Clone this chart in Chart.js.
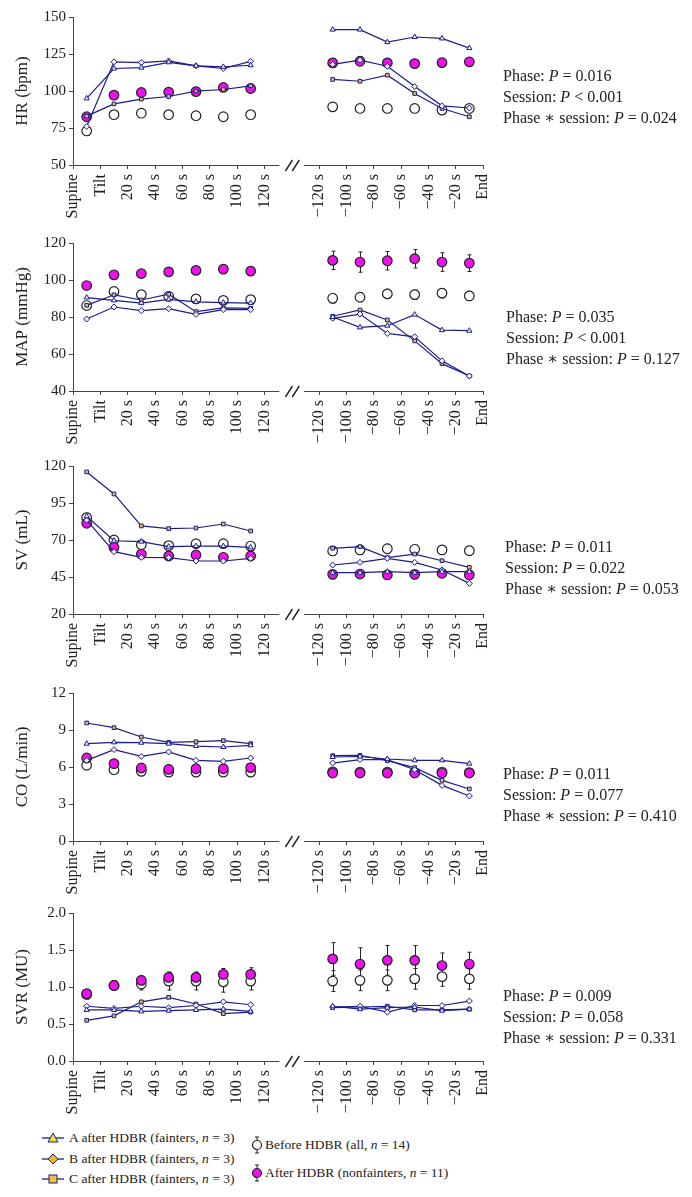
<!DOCTYPE html>
<html>
<head>
<meta charset="utf-8">
<script src="https://cdn.jsdelivr.net/npm/chart.js@4.4.0/dist/chart.umd.min.js"></script>
<style>
  body { margin: 0; background: #fff; width: 692px; height: 1197px; position: relative; overflow: hidden;
         font-family: 'Liberation Serif', 'DejaVu Serif', serif; color: #222; }
  .panel { position: absolute; left: 0; width: 692px; height: 228px; }
  .stats { position: absolute; font-size: 16px; line-height: 21px; white-space: nowrap; }
  .leg { position: absolute; font-size: 13.5px; white-space: nowrap; display: flex; align-items: center; height: 20px; }
  .leg svg { margin-right: 5px; }
  .leg.r svg { margin-right: 2px; }
</style>
</head>
<body>

<div class="panel" style="top:2px"><canvas id="hr"></canvas></div>
<div class="panel" style="top:228px"><canvas id="map"></canvas></div>
<div class="panel" style="top:451px"><canvas id="sv"></canvas></div>
<div class="panel" style="top:678px"><canvas id="co"></canvas></div>
<div class="panel" style="top:898px"><canvas id="svr"></canvas></div>

<div class="stats" style="left:503px;top:65px">Phase: <i>P</i> = 0.016<br>Session: <i>P</i> &lt; 0.001<br>Phase ∗ session: <i>P</i> = 0.024</div>
<div class="stats" style="left:506px;top:306px">Phase: <i>P</i> = 0.035<br>Session: <i>P</i> &lt; 0.001<br>Phase ∗ session: <i>P</i> = 0.127</div>
<div class="stats" style="left:505px;top:536px">Phase: <i>P</i> = 0.011<br>Session: <i>P</i> = 0.022<br>Phase ∗ session: <i>P</i> = 0.053</div>
<div class="stats" style="left:503px;top:763px">Phase: <i>P</i> = 0.011<br>Session: <i>P</i> = 0.077<br>Phase ∗ session: <i>P</i> = 0.410</div>
<div class="stats" style="left:503px;top:985px">Phase: <i>P</i> = 0.009<br>Session: <i>P</i> = 0.058<br>Phase ∗ session: <i>P</i> = 0.331</div>

<div class="leg" style="left:42px;top:1128px"><svg width="22" height="12"><line x1="0" y1="6" x2="22" y2="6" stroke="#1c1c8a" stroke-width="1.3"/><polygon points="11,1 16,10 6,10" fill="#f0e040" stroke="#1c1c8a"/></svg><span>A after HDBR (fainters, <i>n</i> = 3)</span></div>
<div class="leg" style="left:42px;top:1149px"><svg width="22" height="12"><line x1="0" y1="6" x2="22" y2="6" stroke="#1c1c8a" stroke-width="1.3"/><polygon points="11,1 16,6 11,11 6,6" fill="#f0b820" stroke="#1c1c8a"/></svg><span>B after HDBR (fainters, <i>n</i> = 3)</span></div>
<div class="leg" style="left:42px;top:1169px"><svg width="22" height="12"><line x1="0" y1="6" x2="22" y2="6" stroke="#1c1c8a" stroke-width="1.3"/><rect x="7" y="2" width="8" height="8" fill="#f0c040" stroke="#1c1c8a"/></svg><span>C after HDBR (fainters, <i>n</i> = 3)</span></div>
<div class="leg r" style="left:251px;top:1135px"><svg width="12" height="18"><line x1="6" y1="1" x2="6" y2="17" stroke="#222"/><line x1="4" y1="1" x2="8" y2="1" stroke="#222"/><line x1="4" y1="17" x2="8" y2="17" stroke="#222"/><circle cx="6" cy="9" r="4.5" fill="#fff" stroke="#222" stroke-width="1.2"/></svg><span>Before HDBR (all, <i>n</i> = 14)</span></div>
<div class="leg r" style="left:251px;top:1163px"><svg width="12" height="18"><line x1="6" y1="1" x2="6" y2="17" stroke="#222"/><line x1="4" y1="1" x2="8" y2="1" stroke="#222"/><line x1="4" y1="17" x2="8" y2="17" stroke="#222"/><circle cx="6" cy="9" r="4.5" fill="#ee11ee" stroke="#222" stroke-width="1.2"/></svg><span>After HDBR (nonfainters, <i>n</i> = 11)</span></div>

<script>
// x axis: tilt phase (left) and last 2 min before end (right)
const xTickLabels = ['Supine', 'Tilt', '20 s', '40 s', '60 s', '80 s', '100 s', '120 s',
                     '\u2212120 s', '\u2212100 s', '\u221280 s', '\u221260 s', '\u221240 s', '\u221220 s', 'End'];
const xTickPos = [0, 1, 2, 3, 4, 5, 6, 7, 9, 10, 11, 12, 13, 14, 15];

// 13 values each: 7 in the first segment, 6 in the second
const hrA = [95, 115.2, 115.8, 119.4, 117, 116.3, 117.4, 141.5, 141.5, 133, 136.5, 135.5, 129];
const hrB = [76, 119.7, 119.2, 120.3, 117, 115.2, 120, 118, 120.8, 116.7, 103, 90, 88.5];
const hrC = [83, 91.3, 94.5, 96.3, 99.9, 101, 103.5, 107.8, 106.6, 110.7, 98.3, 88.2, 82.6];
const hrBefore = [73, 84, 85, 84, 83.3, 82.6, 84, 89.3, 88.2, 88.2, 88.2, 87.1, 88.2];
const hrAfter = [82.6, 97.2, 99, 99.2, 99.6, 102.4, 101.7, 119, 120.1, 119, 118.5, 119.2, 119.7];
const hrBeforeErr = [3, 2, 2, 2, 2, 2, 2, 2, 2, 2, 2, 2, 2];
const hrAfterErr = [2, 2, 2, 2, 2, 2, 2, 3, 3, 3, 2, 2, 2];

const mapA = [90.5, 89, 87.5, 89.5, 88.2, 87.8, 87.5, 80, 74.4, 75.3, 81.3, 72.9, 72.6];
const mapB = [78.9, 85.4, 83.4, 84.5, 81.4, 84, 84, 79.3, 81.6, 71.1, 69.3, 56.3, 48.1];
const mapC = [86.3, 92, 89.2, 92.3, 82.9, 84.9, 84.7, 80.4, 83.8, 78.4, 67.1, 54.8, 48.1];
const mapBefore = [86.2, 93.8, 92.1, 91.2, 89.8, 89, 89.4, 90.1, 90.7, 92.5, 92.1, 92.9, 91.4];
const mapAfter = [97, 102.8, 103.5, 104.4, 105.2, 105.9, 104.8, 110.6, 109.7, 110.4, 111.5, 109.7, 109.1];
const mapBeforeErr = [2, 2, 2, 2, 2, 2, 2, 2.5, 2.5, 2.5, 2.5, 2.5, 2.5];
const mapAfterErr = [1.5, 2, 2, 2, 2, 2, 2, 5, 5.5, 5, 5, 5, 4.5];

const svA = [86, 69.5, 68.9, 65.5, 65.9, 65.9, 65, 47.9, 47.9, 48.6, 47.9, 48.6, 48.6];
const svB = [83.5, 62.1, 58.3, 58.1, 55.8, 55.8, 57.6, 53.1, 54.9, 57.6, 54.9, 49.7, 40.7];
const svC = [116, 101.1, 79.5, 77.7, 78.1, 80.8, 76.1, 64.4, 65.5, 58.1, 60.5, 56, 51.5];
const svBefore = [85.1, 70, 66.8, 66.2, 67.5, 67.5, 65.9, 62.6, 63.3, 64.1, 63.7, 63.3, 62.8];
const svAfter = [81.3, 65, 60.5, 59.2, 59.9, 58.3, 59.2, 46.8, 47, 46.4, 46.8, 47.5, 46.4];
const svBeforeErr = [3, 2.5, 2.5, 2.5, 2.5, 2.5, 2.5, 3, 3, 3, 3, 3, 3];
const svAfterErr = [2.5, 2.5, 2.5, 2.5, 2.5, 2.5, 2.5, 2.5, 2.5, 2.5, 2.5, 2.5, 2.5];

const coA = [7.89, 8.0, 7.97, 7.89, 7.7, 7.62, 7.76, 6.81, 6.85, 6.65, 6.54, 6.54, 6.27];
const coB = [6.54, 7.41, 6.86, 7.22, 6.54, 6.46, 6.73, 6.32, 6.6, 6.59, 5.78, 4.51, 3.65];
const coC = [9.57, 9.19, 8.43, 8.0, 8.05, 8.14, 7.89, 6.92, 6.95, 6.51, 5.95, 4.92, 4.22];
const coBefore = [6.14, 5.78, 5.65, 5.59, 5.59, 5.59, 5.59, 5.6, 5.59, 5.59, 5.55, 5.59, 5.55];
const coAfter = [6.73, 6.27, 5.92, 5.81, 5.86, 5.86, 5.95, 5.51, 5.51, 5.51, 5.51, 5.51, 5.51];
const coBeforeErr = [0.3, 0.3, 0.3, 0.3, 0.3, 0.3, 0.3, 0.3, 0.3, 0.3, 0.3, 0.3, 0.3];
const coAfterErr = [0.3, 0.3, 0.3, 0.3, 0.3, 0.3, 0.3, 0.3, 0.3, 0.3, 0.3, 0.3, 0.3];

const svrA = [0.69, 0.69, 0.67, 0.68, 0.69, 0.70, 0.67, 0.74, 0.70, 0.72, 0.73, 0.68, 0.70];
const svrB = [0.74, 0.71, 0.74, 0.72, 0.75, 0.80, 0.76, 0.73, 0.74, 0.66, 0.75, 0.75, 0.81];
const svrC = [0.55, 0.61, 0.80, 0.86, 0.77, 0.64, 0.66, 0.72, 0.73, 0.74, 0.69, 0.69, 0.70];
const svrBefore = [0.9, 1.02, 1.04, 1.08, 1.08, 1.07, 1.08, 1.08, 1.09, 1.09, 1.11, 1.14, 1.11];
const svrAfter = [0.91, 1.02, 1.09, 1.13, 1.13, 1.17, 1.17, 1.38, 1.31, 1.36, 1.36, 1.29, 1.31];
const svrBeforeErr = [0.06, 0.06, 0.08, 0.12, 0.12, 0.14, 0.12, 0.14, 0.14, 0.14, 0.14, 0.13, 0.14];
const svrAfterErr = [0.05, 0.06, 0.06, 0.07, 0.07, 0.08, 0.09, 0.22, 0.22, 0.2, 0.2, 0.17, 0.16];

const NAVY = '#1c1c8a';
const FONT = "'Liberation Serif', 'DejaVu Serif', serif";

// point i sits in the middle of its time slot; slot 7 (the break) is skipped
function toPoints(vals) {
  const pts = [];
  vals.forEach((v, i) => {
    if (i === 7) pts.push({x: 8, y: null});
    pts.push({x: i < 7 ? i + 0.5 : i + 2.5, y: v});
  });
  return pts;
}

const errorBars = {
  id: 'errorBars',
  beforeDatasetsDraw(chart) {
    const {ctx, scales: {x, y}} = chart;
    ctx.save();
    ctx.strokeStyle = '#222';
    ctx.lineWidth = 1;
    chart.data.datasets.forEach(ds => {
      if (!ds.errors) return;
      const pts = ds.data.filter(q => q.y !== null);
      pts.forEach((p, i) => {
        const e = ds.errors[i];
        const px = Math.round(x.getPixelForValue(p.x)) + 0.5;
        const top = y.getPixelForValue(p.y + e), bot = y.getPixelForValue(p.y - e);
        ctx.beginPath();
        ctx.moveTo(px, top); ctx.lineTo(px, bot);
        ctx.moveTo(px - 2, top); ctx.lineTo(px + 2, top);
        ctx.moveTo(px - 2, bot); ctx.lineTo(px + 2, bot);
        ctx.stroke();
      });
    });
    ctx.restore();
  }
};

const brokenAxis = {
  id: 'brokenAxis',
  afterDraw(chart) {
    const {ctx, chartArea, scales: {x}} = chart;
    const yb = Math.round(chartArea.bottom) + 0.5;
    ctx.save();
    ctx.strokeStyle = '#444';
    ctx.lineWidth = 1;
    ctx.beginPath();
    ctx.moveTo(x.getPixelForValue(0), yb); ctx.lineTo(x.getPixelForValue(7.55), yb);
    ctx.moveTo(x.getPixelForValue(8.45), yb); ctx.lineTo(x.getPixelForValue(15), yb);
    ctx.stroke();
    ctx.lineWidth = 1.4;
    ctx.strokeStyle = '#222';
    ctx.beginPath();
    [7.9, 8.15].forEach(v => {
      const px = x.getPixelForValue(v);
      ctx.moveTo(px - 3.5, yb + 5.5); ctx.lineTo(px + 3.5, yb - 5.5);
    });
    ctx.stroke();
    ctx.restore();
  }
};

function makePanel(id, title, yMin, yMax, step, decimals, a, b, c, before, after, beforeErr, afterErr) {
  const small = (label, vals, style, fill) => ({
    label, data: toPoints(vals), showLine: true, spanGaps: false,
    borderColor: NAVY, borderWidth: 1.2, pointStyle: style, pointRadius: style === 'rect' ? 2.6 : 3,
    pointBackgroundColor: fill, pointBorderColor: NAVY, pointBorderWidth: 1
  });
  const circ = (label, vals, errs, fill) => ({
    label, data: toPoints(vals), errors: errs, showLine: false,
    pointStyle: 'circle', pointRadius: 4.8, pointBackgroundColor: fill,
    pointBorderColor: '#222', pointBorderWidth: 1.2
  });
  new Chart(document.getElementById(id), {
    type: 'scatter',
    data: {
      datasets: [
        small('A after HDBR', a, 'triangle', '#eef0fb'),
        small('B after HDBR', b, 'rectRot', '#f2ecf8'),
        small('C after HDBR', c, 'rect', '#dcbc5c'),
        circ('After HDBR', after, afterErr, '#ee11ee'),
        circ('Before HDBR', before, beforeErr, '#ffffff')
      ]
    },
    options: {
      responsive: true,
      maintainAspectRatio: false,
      animation: false,
      layout: {padding: {left: 12, right: 209, top: 15, bottom: 0}},
      plugins: {legend: {display: false}, tooltip: {enabled: false}},
      scales: {
        x: {
          type: 'linear', min: 0, max: 15,
          afterBuildTicks: s => { s.ticks = xTickPos.map(v => ({value: v})); },
          afterFit: s => { s.height = 65; },
          border: {display: false},
          grid: {drawOnChartArea: false, drawTicks: true, tickLength: 4, color: '#444'},
          ticks: {
            autoSkip: false, maxRotation: 90, minRotation: 90, padding: 5,
            color: '#222', font: {family: FONT, size: 16},
            callback: (v, i) => xTickLabels[i]
          }
        },
        y: {
          min: yMin, max: yMax,
          afterFit: s => { s.width = 61; },
          border: {display: true, color: '#444', width: 1},
          grid: {drawOnChartArea: false, drawTicks: true, tickLength: 4, color: '#444'},
          ticks: {
            stepSize: step, padding: 3, color: '#222', font: {family: FONT, size: 15},
            callback: v => v.toFixed(decimals)
          },
          title: {display: true, text: title, color: '#222', font: {family: FONT, size: 17}, padding: {top: 0, bottom: 4}}
        }
      }
    },
    plugins: [errorBars, brokenAxis]
  });
}

makePanel('hr', 'HR (bpm)', 50, 150, 25, 0, hrA, hrB, hrC, hrBefore, hrAfter, hrBeforeErr, hrAfterErr);
makePanel('map', 'MAP (mmHg)', 40, 120, 20, 0, mapA, mapB, mapC, mapBefore, mapAfter, mapBeforeErr, mapAfterErr);
makePanel('sv', 'SV (mL)', 20, 120, 25, 0, svA, svB, svC, svBefore, svAfter, svBeforeErr, svAfterErr);
makePanel('co', 'CO (L/min)', 0, 12, 3, 0, coA, coB, coC, coBefore, coAfter, coBeforeErr, coAfterErr);
makePanel('svr', 'SVR (MU)', 0, 2, 0.5, 1, svrA, svrB, svrC, svrBefore, svrAfter, svrBeforeErr, svrAfterErr);
</script>
</body>
</html>
